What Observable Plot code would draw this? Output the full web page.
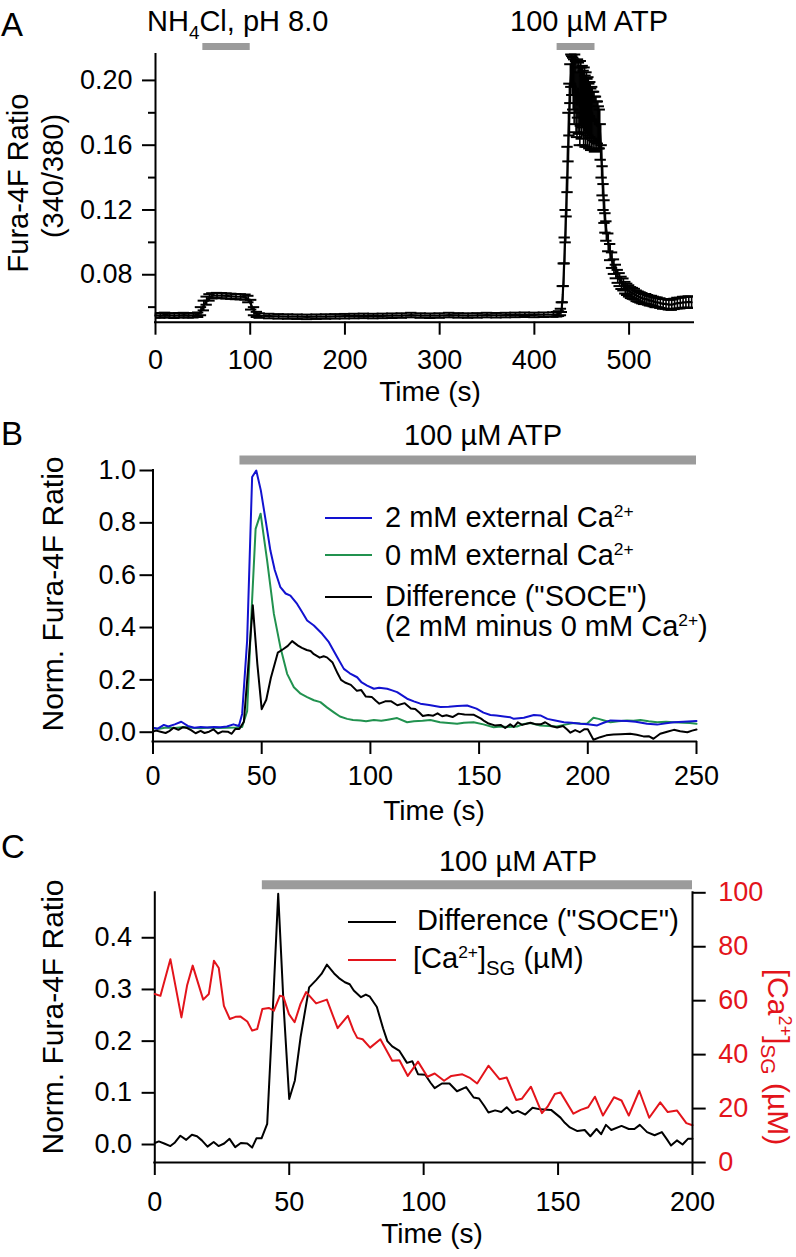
<!DOCTYPE html>
<html>
<head>
<meta charset="utf-8">
<script src="https://cdn.jsdelivr.net/npm/d3@7"></script>
<script src="https://cdn.jsdelivr.net/npm/@observablehq/plot@0.6"></script>
<style>
html,body{margin:0;padding:0;background:#fff;}
#fig{position:relative;width:796px;height:1257px;overflow:hidden;font-family:"Liberation Sans",Arial,Helvetica,sans-serif;color:#000;background:#fff;}
.layer{position:absolute;left:0;}
.t{position:absolute;white-space:nowrap;}
.t sup{font-size:0.6em;line-height:0;position:relative;top:-0.6em;vertical-align:baseline;}
.t sub{font-size:0.7em;line-height:0;position:relative;top:0.32em;vertical-align:baseline;}
.t sub.n{font-size:0.65em;top:0.4em;}
.sw{position:absolute;height:2px;}
</style>
</head>
<body>
<div id="fig"></div>
<script>
// ================= DATA =================
// Panel A: mean Fura-4F ratio (340/380) and SEM
const aTime = [0,5,10,15,20,25,30,35,40,45,48,51,54,57,60,65,70,75,80,85,90,95,98,101,104,107,
  110,120,130,140,150,160,170,180,190,200,210,220,230,240,250,260,270,280,290,300,310,320,330,340,350,360,370,380,390,400,410,420,
  424,426,428,429,430,431,432,433,434,435,436,437,438,439,440,441,442,443,444,445,446,447,448,449,450,451,452,453,454,455,456,457,
  458,459,460,461,462,463,464,465,466,467,468,469,470,471,472,473,474,475,
  476,478,480,482,484,486,488,490,492,494,496,498,500,502,504,506,508,510,512,514,516,518,520,522,524,526,528,530,
  533,536,539,542,545,548,551,554,557,560,563,566];
const aMean = [0.0550,0.0548,0.0552,0.0549,0.0547,0.0550,0.0551,0.0549,0.0550,0.0553,0.0575,0.0610,0.0640,0.0660,
  0.0670,0.0672,0.0671,0.0669,0.0667,0.0665,0.0664,0.0662,0.0650,0.0615,0.0575,0.0555,
  0.0548,0.0545,0.0543,0.0542,0.0541,0.0540,0.0541,0.0542,0.0543,0.0544,0.0545,0.0546,0.0545,0.0546,0.0547,0.0548,
  0.0551,0.0548,0.0547,0.0548,0.0551,0.0549,0.0548,0.0549,0.0551,0.0550,0.0551,0.0552,0.0553,0.0552,0.0553,0.0554,
  0.0556,0.0560,
  0.057,0.060,0.068,0.080,0.095,0.110,0.128,0.145,0.165,0.182,
  0.198,0.206,0.203,0.198,0.193,0.198,0.190,0.185,0.195,0.189,
  0.184,0.192,0.186,0.190,0.183,0.188,0.181,0.186,0.180,0.184,
  0.178,0.182,0.176,0.180,0.175,0.178,0.173,0.176,0.172,0.174,
  0.171,0.170,0.162,0.150,0.138,0.128,0.119,0.112,
  0.107,0.100,0.094,0.089,0.085,0.082,0.079,0.077,0.075,0.074,
  0.072,0.071,0.070,0.069,0.0685,0.068,0.067,0.0665,0.066,0.0655,
  0.065,0.065,0.0645,0.064,0.064,0.0635,0.063,0.063,
  0.0625,0.062,0.062,0.0615,0.0615,0.062,0.0625,0.0625,0.063,0.063,0.0632,0.063];
const aSem = [0.0014,0.0014,0.0014,0.0014,0.0014,0.0014,0.0014,0.0014,0.0014,0.0014,0.0025,0.0030,0.0025,0.0020,
  0.0016,0.0016,0.0016,0.0016,0.0016,0.0016,0.0016,0.0016,0.0020,0.0030,0.0025,0.0016,
  0.0014,0.0014,0.0014,0.0014,0.0014,0.0014,0.0014,0.0014,0.0014,0.0014,0.0014,0.0014,0.0014,0.0014,0.0014,0.0014,
  0.0014,0.0014,0.0014,0.0014,0.0014,0.0014,0.0014,0.0014,0.0014,0.0014,0.0014,0.0014,0.0014,0.0014,0.0014,0.0014,
  0.0014,0.0015,
  0.002,0.003,0.005,0.007,0.008,0.010,0.012,0.014,0.015,0.016,
  0.012,0.010,0.012,0.016,0.020,0.018,0.022,0.020,0.018,0.022,
  0.024,0.020,0.022,0.019,0.023,0.020,0.022,0.019,0.021,0.018,
  0.020,0.017,0.019,0.016,0.018,0.015,0.017,0.014,0.015,0.013,
  0.013,0.012,0.011,0.010,0.009,0.008,0.007,0.006,
  0.006,0.0055,0.005,0.0048,0.0045,0.0042,0.004,0.004,0.0038,0.0037,
  0.0036,0.0035,0.0035,0.0034,0.0034,0.0033,0.0033,0.0032,0.0032,0.0032,
  0.0031,0.0031,0.003,0.003,0.003,0.003,0.003,0.003,
  0.003,0.003,0.003,0.003,0.0032,0.0032,0.0033,0.0033,0.0034,0.0034,0.0035,0.0035];
const aNH4Cl = [50, 100];
const aATP = [424, 464];
const aXDomain = [0, 568];
const aYDomain = [0.0507, 0.216];
const aYTicks = [0.08, 0.12, 0.16, 0.20];
const aYMinor = [0.06, 0.10, 0.14, 0.18];
const aXTicks = [0, 100, 200, 300, 400, 500];

// Panel B: normalized ratio, 2 mM Ca, 0 mM Ca, difference ("SOCE")
const b2mT = [0,2,5,7,10,13,16,19,22,25,28,31,34,37,39.5,41,43.3,45.6,47.5,49.6,52,54,56,58.6,61,63.2,66.3,68.5,70.9,74,
  77.8,80.9,84.7,87.8,90.5,93.9,96,98.5,101.6,104,107.7,110,112.3,116.9,120,123,127,132.2,136,140,144.5,148.8,152,155.2,158,161.4,164.4,166,170.6,175.2,
  178.2,181.4,185,189,192.5,196.6,200,204.3,207,210.4,214,218,222,227.3,231.9,236,239.6,244,248,250];
const b2mV = [0.017,0.013,0.028,0.022,0.03,0.04,0.024,0.017,0.02,0.018,0.02,0.019,0.022,0.03,0.024,0.07,0.35,0.975,1.0,0.924,
  0.80,0.694,0.62,0.554,0.53,0.522,0.49,0.46,0.427,0.408,0.376,0.344,0.287,0.242,0.225,0.21,0.19,0.178,0.166,0.17,
  0.166,0.16,0.153,0.128,0.118,0.109,0.104,0.096,0.097,0.1,0.102,0.09,0.075,0.066,0.064,0.06,0.057,0.051,0.055,0.066,
  0.064,0.051,0.045,0.038,0.036,0.032,0.03,0.026,0.035,0.045,0.044,0.043,0.04,0.032,0.029,0.034,0.038,0.04,0.042,0.043];
const b0mT = [0,3,6,10,14,18,22,26,30,34,38,41,43.3,45.5,47.2,49.5,52.5,55.6,58.6,61.7,64.8,67.9,70.9,74,77,80,83.2,86,89.3,92,
  95.5,98,101.6,105,108,112.3,116.9,120,124,127.6,132,136,139.9,143,147.5,152,156.7,160,163,167.4,
  170,173.5,178.1,182,185.8,189,193.4,196.5,199.6,202.6,205,207.5,210.4,214,218,221,224.2,228,231.9,236,239.6,244,247,250];
const b0mV = [0.015,0.013,0.018,0.016,0.02,0.017,0.015,0.018,0.016,0.017,0.018,0.02,0.08,0.49,0.777,0.835,0.656,0.452,0.325,0.223,
  0.172,0.147,0.134,0.122,0.115,0.095,0.076,0.06,0.051,0.047,0.045,0.042,0.047,0.044,0.048,0.054,0.038,0.042,0.044,0.047,
  0.038,0.035,0.032,0.036,0.038,0.03,0.019,0.022,0.02,0.022,0.03,0.035,0.026,0.024,0.022,0.028,0.035,0.033,0.032,0.055,
  0.051,0.045,0.038,0.042,0.045,0.044,0.047,0.042,0.038,0.04,0.038,0.036,0.035,0.032];
const diffT = [0,1.5,3.5,5.8,7.5,9.5,11.7,13.8,15.7,17.5,19.6,21.9,23.7,25.8,27.8,29.9,32,34.4,36.2,37.8,
  39.7,41.8,43.8,45.9,48,50,52.1,54.2,57.4,60,62,64,66.7,68.5,70.7,72.5,74,76.7,78.5,80,
  82.6,84.9,86.5,88.3,91,93.8,95.8,97.9,100.6,102.5,104.1,106.8,109.6,112.4,115.8,118.6,120.6,122.5,124.1,126.6,
  128.9,130.9,133,135,137.8,140.5,143.3,147.4,150.9,152.5,154.4,157.2,159.9,162,164.3,166,167.8,169.8,173.6,176.3,
  178.4,180.4,183.1,185.9,188.6,190.5,192,194.2,196.3,198.3,200,202.6,205.7,208.5,211.8,215,219.5,222.5,225.6,228,
  230.2,233.3,236.5,239.6,242.5,245.8,248,250];
const diffV = [0.003,0.006,0.002,-0.003,0.004,0.017,0.009,0.019,0.016,0.008,-0.004,0.005,-0.003,0.002,0.011,-0.005,0.003,0.002,-0.006,0.012,
  0.012,0.04,0.25,0.485,0.26,0.088,0.124,0.207,0.304,0.318,0.33,0.348,0.331,0.322,0.314,0.31,0.298,0.285,0.29,0.286,
  0.266,0.225,0.2,0.19,0.181,0.158,0.161,0.136,0.135,0.12,0.109,0.118,0.118,0.103,0.111,0.091,0.089,0.075,0.062,0.066,
  0.063,0.072,0.061,0.065,0.058,0.071,0.068,0.067,0.052,0.042,0.033,0.026,0.028,0.016,0.03,0.02,0.038,0.028,0.036,0.03,
  0.03,0.038,0.024,0.018,0.024,0.01,-0.002,0.008,0.0,0.011,0.011,-0.029,-0.019,-0.012,-0.009,-0.008,-0.006,-0.01,-0.016,-0.015,
  -0.025,-0.006,0.002,0.009,0.004,0.0,0.006,0.01];
const bATP = [40, 250];
const bXDomain = [0, 250];
const bYDomain = [-0.0355, 1.0];
const bYTicks = [0, 0.2, 0.4, 0.6, 0.8, 1.0];
const bXTicks = [0, 50, 100, 150, 200, 250];

// Panel C: SOCE (left axis) and [Ca2+]SG in µM (right axis)
const caT = [0,2.1,5.8,9.9,12,14.1,18,20.1,22,23.8,25.7,27.9,30,31.9,34.4,36.2,38.1,40,42.4,44.3,
  46.5,47.8,49.9,52,54.2,56.3,60,64,68,71.8,73.9,75.3,77.3,80.1,83.9,88.3,91,94.1,97.9,101.4,
  104.1,107.6,110.3,114.4,117,119.9,124.1,128.2,130.9,134.4,136.5,139.9,144,146.1,148.8,150.9,155.7,158.4,161.2,163.7,
  166.7,170.8,173.6,176.3,180.2,183.9,188,190.8,194.2,197.7,200];
const caV = [62.5,61.8,75.4,53.8,65.6,73,60.4,62.5,74.8,72.1,58.1,53.2,54,54.1,52.3,48.9,49.5,56.9,57.3,56.3,
  61.8,61.5,55,52,58.8,63.2,59,60.4,49.8,54.4,48.9,46.2,45.7,42.6,45.7,37.7,37.9,32.1,37.4,31.8,
  33,30.3,32.1,32.7,31.5,29.3,35.9,30.9,31.5,23.2,23.6,28.1,18.3,20.7,25.4,26,18.1,19.5,20.5,24.4,
  17.4,24.2,23,17.4,26.6,16.6,22.3,18.7,19.3,14.6,13.8];
const cATP = [40, 200];
const cXDomain = [0, 200];
const cYDomain = [-0.0348, 0.487];
const cY2Domain = [0, 100];
const cYTicks = [0, 0.1, 0.2, 0.3, 0.4];
const cY2Ticks = [0, 20, 40, 60, 80, 100];
const cXTicks = [0, 50, 100, 150, 200];

// ================= STYLE =================
const FONT = '"Liberation Sans", Arial, Helvetica, sans-serif';
const BLUE = "#1212d0", GREEN = "#21924f", RED = "#e3141b", GRAY = "#9b9b9b";
const fig = document.getElementById("fig");

function addPlot(p, top) {
  p.classList.add("layer");
  p.style.top = top + "px";
  fig.appendChild(p);
}
function txt(html, x, base, o = {}) {
  const fs = o.fs || 29;
  const d = document.createElement("div");
  d.className = "t";
  d.innerHTML = html;
  d.style.fontSize = fs + "px";
  d.style.lineHeight = fs + "px";
  d.style.left = x + "px";
  d.style.top = (base - 0.8465 * fs) + "px";
  if (o.anchor === "middle") d.style.transform = "translateX(-50%)";
  if (o.color) d.style.color = o.color;
  fig.appendChild(d);
}
function rtxt(html, cx, cy, deg, o = {}) {
  const fs = o.fs || 30;
  const d = document.createElement("div");
  d.className = "t";
  d.innerHTML = html;
  d.style.fontSize = fs + "px";
  d.style.lineHeight = fs + "px";
  d.style.left = cx + "px";
  d.style.top = cy + "px";
  d.style.transform = `translate(-50%,-50%) rotate(${deg}deg)`;
  if (o.color) d.style.color = o.color;
  fig.appendChild(d);
}
function swatch(x1, x2, y, color) {
  const d = document.createElement("div");
  d.className = "sw";
  d.style.left = x1 + "px";
  d.style.width = (x2 - x1) + "px";
  d.style.top = (y - 1) + "px";
  d.style.background = color;
  fig.appendChild(d);
}
const baseStyle = {fontFamily: FONT, fontSize: "27px", background: "transparent", overflow: "visible", color: "#000"};
const f1 = d3.format(".1f"), f2 = d3.format(".2f");

// ================= PANEL A =================
const aRows = aTime.map((t, i) => ({t, m: aMean[i], e: aSem[i]}));
const CAP = 6;
const capX1 = d => Math.max(aXDomain[0], d.t - CAP), capX2 = d => Math.min(aXDomain[1], d.t + CAP);
const plotA = Plot.plot({
  width: 796, height: 400,
  marginLeft: 155, marginRight: 103, marginTop: 54, marginBottom: 78.3,
  style: baseStyle,
  x: {domain: aXDomain},
  y: {domain: aYDomain},
  marks: [
    Plot.ruleY([aNH4Cl, aATP], {x1: d => d[0], x2: d => d[1], y: () => aYDomain[1], dy: -8, stroke: GRAY, strokeWidth: 7}),
    Plot.ruleX(aRows, {x: "t", y1: d => d.m - d.e, y2: d => d.m + d.e, stroke: "#000", strokeWidth: 1.6}),
    Plot.ruleY(aRows, {y: d => d.m + d.e, x1: capX1, x2: capX2, stroke: "#000", strokeWidth: 2}),
    Plot.ruleY(aRows, {y: d => d.m - d.e, x1: capX1, x2: capX2, stroke: "#000", strokeWidth: 2}),
    Plot.line(aRows, {x: "t", y: "m", stroke: "#000", strokeWidth: 2.2}),
    Plot.axisY({ticks: aYTicks, tickFormat: f2, tickSize: 13, tickPadding: 10, strokeWidth: 2, label: null}),
    Plot.axisY({ticks: aYMinor, tickSize: 7, text: null, strokeWidth: 2, label: null}),
    Plot.axisX({ticks: aXTicks, tickSize: 13, tickPadding: 15, strokeWidth: 2, label: null, tickFormat: d => String(d)}),
    Plot.ruleX([aXDomain[0]], {stroke: "#000", strokeWidth: 2, strokeLinecap: "square"}),
    Plot.ruleY([aYDomain[0]], {stroke: "#000", strokeWidth: 2, strokeLinecap: "square"})
  ]
});
addPlot(plotA, 0);

// ================= PANEL B =================
const plotB = Plot.plot({
  width: 796, height: 440,
  marginLeft: 152.5, marginRight: 100, marginTop: 70, marginBottom: 99,
  style: baseStyle,
  x: {domain: bXDomain},
  y: {domain: bYDomain},
  marks: [
    Plot.ruleY([bATP], {x1: d => d[0], x2: d => d[1], y: () => bYDomain[1], dy: -10.5, stroke: GRAY, strokeWidth: 9}),
    Plot.lineY(b0mV, {x: b0mT, stroke: GREEN, strokeWidth: 2}),
    Plot.lineY(b2mV, {x: b2mT, stroke: BLUE, strokeWidth: 2}),
    Plot.lineY(diffV, {x: diffT, stroke: "#000", strokeWidth: 2}),
    Plot.axisY({ticks: bYTicks, tickFormat: f1, tickSize: 13, tickPadding: 4, strokeWidth: 2, label: null}),
    Plot.axisX({ticks: bXTicks, tickSize: 13, tickPadding: 11, strokeWidth: 2, label: null, tickFormat: d => String(d)}),
    Plot.ruleX([bXDomain[0]], {stroke: "#000", strokeWidth: 2, strokeLinecap: "square"}),
    Plot.ruleY([bYDomain[0]], {stroke: "#000", strokeWidth: 2, strokeLinecap: "square"})
  ]
});
addPlot(plotB, 400);

// ================= PANEL C =================
const plotC = Plot.plot({
  width: 796, height: 417,
  marginLeft: 154.3, marginRight: 104, marginTop: 52.3, marginBottom: 95,
  style: baseStyle,
  x: {domain: cXDomain},
  y: {domain: cYDomain},
  marks: [
    Plot.ruleY([cATP], {x1: d => d[0], x2: d => d[1], y: () => cYDomain[1], dy: -8, stroke: GRAY, strokeWidth: 9}),
    Plot.lineY(diffV, {x: diffT, filter: (d, i) => diffT[i] <= cXDomain[1], stroke: "#000", strokeWidth: 2}),
    Plot.axisY({ticks: cYTicks, tickFormat: f1, tickSize: 12.7, tickPadding: 10, strokeWidth: 2, label: null}),
    Plot.axisX({ticks: cXTicks, tickSize: 13, tickPadding: 16, strokeWidth: 2, label: null, tickFormat: d => String(d)}),
    Plot.ruleX([cXDomain[0]], {stroke: "#000", strokeWidth: 2, strokeLinecap: "square"}),
    Plot.ruleY([cYDomain[0]], {stroke: "#000", strokeWidth: 2, strokeLinecap: "square"})
  ]
});
addPlot(plotC, 840);

const plotC2 = Plot.plot({
  width: 796, height: 417,
  marginLeft: 154.3, marginRight: 104, marginTop: 52.3, marginBottom: 95,
  style: baseStyle,
  x: {domain: cXDomain, axis: null},
  y: {domain: cY2Domain},
  marks: [
    Plot.lineY(caV, {x: caT, stroke: RED, strokeWidth: 2}),
    Plot.axisY({anchor: "right", ticks: cY2Ticks, tickSize: 12.7, tickPadding: 13, stroke: "#000", fill: RED, strokeWidth: 2, label: null, tickFormat: d => String(d)}),
    Plot.ruleX([cXDomain[1]], {stroke: "#000", strokeWidth: 2, strokeLinecap: "square"})
  ]
});
addPlot(plotC2, 840);

// ================= TEXT =================
// Panel A
txt("A", 1, 36, {fs: 33});
txt("NH<sub class=\"n\">4</sub>Cl, pH 8.0", 147, 31.7);
txt("100 µM ATP", 510, 31.7);
rtxt("Fura-4F Ratio", 18, 183, -90, {fs: 29});
rtxt("(340/380)", 53, 176, -90, {fs: 29});
txt("Time (s)", 430, 402, {fs: 28, anchor: "middle"});

// Panel B
txt("B", 1, 445, {fs: 33});
txt("100 µM ATP", 483, 446, {anchor: "middle"});
rtxt("Norm. Fura-4F Ratio", 52.5, 594, -90);
txt("Time (s)", 434, 821, {fs: 28, anchor: "middle"});
swatch(325, 372, 518.3, BLUE);
swatch(325, 372, 555, GREEN);
swatch(325, 372, 596.7, "#000");
txt("2 mM external Ca<sup>2+</sup>", 385, 528);
txt("0 mM external Ca<sup>2+</sup>", 385, 565.5);
txt("Difference (\"SOCE\")", 385, 606.5);
txt("(2 mM minus 0 mM Ca<sup>2+</sup>)", 385, 637);

// Panel C
txt("C", 1, 858, {fs: 33});
txt("100 µM ATP", 518, 872, {anchor: "middle"});
rtxt("Norm. Fura-4F Ratio", 52.5, 1017, -90);
rtxt("[Ca<sup>2+</sup>]<sub>SG</sub> (µM)", 778, 1057, 90, {color: RED});
txt("Time (s)", 432, 1244, {fs: 28, anchor: "middle"});
swatch(348, 396, 921.5, "#000");
swatch(348, 396, 959.7, RED);
txt("Difference (\"SOCE\")", 417, 931);
txt("[Ca<sup>2+</sup>]<sub>SG</sub> (µM)", 413, 969);
</script>
</body>
</html>
